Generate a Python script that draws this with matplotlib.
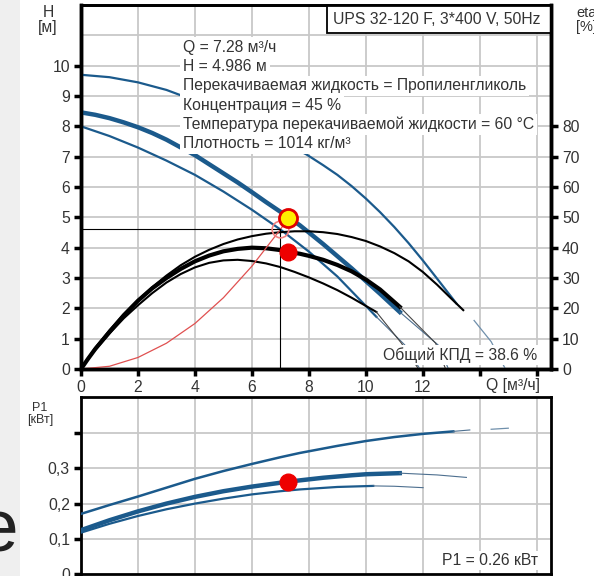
import matplotlib.pyplot as plt
from matplotlib.patches import Rectangle

plt.rcParams['font.family'] = ['Liberation Sans', 'DejaVu Sans']

BLUE = '#1b5a8c'
TXT = '#333333'
FS = 11.3

# --- Q-H curves, H [m] vs Q [m3/h] ---
q_hmax = [0, 1, 2, 3, 4, 5, 6, 7, 7.92, 8.5, 9, 9.5, 10, 10.5, 11, 11.5, 12, 12.5, 13.18]
h_hmax = [9.7, 9.62, 9.45, 9.2, 8.85, 8.45, 8.0, 7.52, 7.07, 6.72, 6.4, 6.03, 5.62, 5.17,
          4.68, 4.15, 3.58, 2.98, 2.16]
q_hmax_ext = [13.8, 14.4, 14.9]
h_hmax_ext = [1.6, 0.9, 0.0]

q_hop = [0, 0.5, 1, 1.5, 2, 2.5, 3, 3.47, 4, 4.5, 5, 5.5, 6, 6.5, 7.02, 7.28, 7.68, 8,
         8.5, 9, 9.5, 10, 10.5, 11.19]
h_hop = [8.46, 8.38, 8.27, 8.13, 7.97, 7.78, 7.56, 7.32, 7.05, 6.75, 6.45, 6.15, 5.83,
         5.5, 5.17, 5.0, 4.74, 4.5, 4.12, 3.72, 3.32, 2.9, 2.48, 1.88]
q_hop_ext = [11.19, 12.54, 12.9]
h_hop_ext = [1.88, 0.79, 0.0]

q_hmin = [0, 1, 2, 3, 4, 5, 6, 7, 8, 9, 10.37]
h_hmin = [8.0, 7.68, 7.3, 6.87, 6.4, 5.85, 5.25, 4.6, 3.87, 3.05, 1.72]
q_hmin_ext = [10.37, 11.37, 11.9]
h_hmin_ext = [1.72, 0.79, 0.0]

# --- efficiency curves, eta/10 on the H scale ---
q_emax = [0, 0.25, 0.5, 1, 1.5, 2, 2.5, 3, 3.5, 4, 4.5, 5, 5.5, 6, 6.5, 7, 7.5, 8, 8.5,
          9, 9.5, 10, 10.5, 11, 11.5, 12, 12.5, 13, 13.42]
e_emax = [0, 0.36, 0.7, 1.28, 1.8, 2.27, 2.7, 3.08, 3.42, 3.7, 3.93, 4.12, 4.27, 4.38,
          4.46, 4.51, 4.54, 4.54, 4.51, 4.45, 4.35, 4.22, 4.04, 3.82, 3.55, 3.2, 2.78,
          2.32, 1.94]

q_eop = [0, 0.25, 0.5, 1, 1.5, 2, 2.5, 3, 3.5, 4, 4.5, 5, 5.5, 6, 6.5, 7, 7.28, 7.68, 8,
         8.5, 9, 9.5, 10, 10.5, 11.19]
e_eop = [0, 0.34, 0.66, 1.22, 1.77, 2.25, 2.66, 3.0, 3.3, 3.55, 3.74, 3.88, 3.96, 4.0,
         3.98, 3.92, 3.86, 3.8, 3.73, 3.6, 3.43, 3.22, 2.95, 2.62, 2.05]
q_eop_ext = [11.19, 12.45, 12.8]
e_eop_ext = [2.05, 0.85, 0.0]

q_emin = [0, 0.25, 0.5, 1, 1.5, 2, 2.5, 3, 3.5, 4, 4.5, 5, 5.5, 6, 6.5, 7, 7.5, 8, 8.5,
          9, 9.5, 10, 10.37]
e_emin = [0, 0.33, 0.63, 1.17, 1.67, 2.1, 2.5, 2.85, 3.13, 3.35, 3.5, 3.58, 3.6, 3.56,
          3.48, 3.36, 3.2, 3.02, 2.82, 2.6, 2.35, 2.08, 1.88]
q_emin_ext = [10.37, 11.25, 11.85]
e_emin_ext = [1.88, 0.85, 0.0]

# system curve
q_sys = [0, 1, 2, 3, 4, 5, 6, 7, 7.28]
h_sys = [0, 0.09, 0.38, 0.85, 1.5, 2.35, 3.39, 4.6, 4.986]

duty_q, duty_h, duty_eta = 7.28, 4.986, 3.86
ref_q, ref_h = 7.0, 4.6

# --- P1 curves [kW] ---
q_pmax = [0, 1, 2, 3, 4, 5, 6, 7, 7.68, 9, 10.02, 11, 12.01, 13.07]
p_pmax = [0.171, 0.196, 0.22, 0.245, 0.27, 0.292, 0.312, 0.331, 0.343, 0.363, 0.377,
          0.388, 0.397, 0.404]
q_pmax_ext = [13.07, 13.65]
p_pmax_ext = [0.404, 0.408]
q_pmax_ext2 = [14.4, 15.0]
p_pmax_ext2 = [0.41, 0.413]

q_pop = [0, 1, 2, 3, 4, 5, 6, 7.28, 8.5, 9.5, 10.02, 11.19]
p_pop = [0.125, 0.153, 0.178, 0.2, 0.219, 0.235, 0.248, 0.262, 0.273, 0.28, 0.283, 0.286]
q_pop_ext = [11.19, 12.5, 13.53]
p_pop_ext = [0.286, 0.281, 0.274]

q_pmin = [0, 1, 2, 3, 4, 5, 6, 7, 7.68, 9, 10.26]
p_pmin = [0.118, 0.143, 0.165, 0.184, 0.2, 0.214, 0.226, 0.235, 0.24, 0.247, 0.25]
q_pmin_ext = [10.26, 11.0, 12.01]
p_pmin_ext = [0.25, 0.249, 0.245]
duty_p = 0.262

info_lines = [
    'Q = 7.28 м³/ч',
    'H = 4.986 м',
    'Перекачиваемая жидкость = Пропиленгликоль',
    'Концентрация = 45 %',
    'Температура перекачиваемой жидкости = 60 °C',
    'Плотность = 1014 кг/м³',
]
info_y = [10.59, 9.96, 9.33, 8.7, 8.07, 7.44]


def style_spines(ax, lw):
    for s in ax.spines.values():
        s.set_linewidth(lw)
        s.set_color('black')


fig = plt.figure(figsize=(5.94, 5.76), dpi=100)
fig.patches.append(Rectangle((0, 0), 20 / 594, 1, transform=fig.transFigure,
                             facecolor='#efefef', edgecolor='none', zorder=-5))
fig.text(19 / 594, 1 - 552 / 576, 'e', fontsize=54, ha='right', va='baseline', color='#222222')

# ---------------- top chart ----------------
ax = fig.add_axes([81 / 594, 1 - 369 / 576, 470 / 594, 364 / 576])
ax.set_xlim(0, 16.5)
ax.set_ylim(0, 12)
for gx in range(2, 17, 2):
    ax.axvline(gx, color='#c8c8c8', lw=1.3, zorder=0)
for gy in range(1, 12):
    ax.axhline(gy, color='#c8c8c8', lw=1.3, zorder=0)

ax.plot(q_hmax, h_hmax, color=BLUE, lw=1.6, zorder=3)
ax.plot(q_hmax[-1:] + [13.36], h_hmax[-1:] + [2.0], color='#6f8fab', lw=0.8, zorder=3)
ax.plot(q_hmax_ext, h_hmax_ext, color='#6f8fab', lw=0.9, zorder=3)
ax.plot(q_hop, h_hop, color=BLUE, lw=3.2, zorder=3)
ax.plot(q_hop_ext, h_hop_ext, color='#4d6f8f', lw=0.8, zorder=3)
ax.plot(q_hmin, h_hmin, color=BLUE, lw=1.6, zorder=3)
ax.plot(q_hmin_ext, h_hmin_ext, color='#4d6f8f', lw=0.8, zorder=3)

ax.plot(q_emax, e_emax, color='black', lw=1.5, zorder=3)
ax.plot(q_eop, e_eop, color='black', lw=3.0, zorder=3)
ax.plot(q_eop_ext, e_eop_ext, color='#444444', lw=0.8, zorder=3)
ax.plot(q_emin, e_emin, color='black', lw=1.5, zorder=3)
ax.plot(q_emin_ext, e_emin_ext, color='#444444', lw=0.8, zorder=3)

ax.plot(q_sys, h_sys, color='#e05050', lw=0.9, zorder=4)
ax.plot([0, ref_q], [ref_h, ref_h], color='black', lw=0.8, zorder=4)
ax.plot([ref_q, ref_q], [0, ref_h], color='black', lw=0.8, zorder=4)
ax.plot(ref_q, ref_h, 'o', ms=12, mfc='none', mec='#f08080', mew=1.2, zorder=5)
ax.plot(duty_q, duty_h, 'o', ms=13, mfc='#ffee00', mec='#e00000', mew=2, zorder=6)
ax.plot(duty_q, duty_eta, 'o', ms=12, mfc='#ee0000', mec='#ee0000', zorder=6)

for line, y in zip(info_lines, info_y):
    ax.text(3.58, y, line, fontsize=FS, color=TXT, ha='left', va='center', zorder=7,
            bbox=dict(facecolor='white', edgecolor='none', pad=2))

ax.add_patch(Rectangle((8.63, 11.09), 16.5 - 8.63, 0.91, facecolor='white',
                       edgecolor='black', lw=1.3, zorder=7, clip_on=False))
ax.text(12.49, 11.53, 'UPS 32-120 F, 3*400 V, 50Hz', fontsize=FS, color=TXT,
        ha='center', va='center', zorder=8)
ax.text(16.0, 0.46, 'Общий КПД = 38.6 %', fontsize=FS, color=TXT, ha='right', va='center',
        zorder=7, bbox=dict(facecolor='white', edgecolor='none', pad=1.5))
ax.text(15.16, -0.53, 'Q [м³/ч]', fontsize=FS, color=TXT, ha='center', va='center', clip_on=False)

ax.set_xticks(range(0, 17, 2))
ax.set_xticklabels(['0', '2', '4', '6', '8', '10', '12', '', ''])
ax.set_yticks(range(0, 11))
ax.tick_params(direction='out', length=5, width=2.5, color='black', labelsize=FS,
               labelcolor=TXT, pad=3)
style_spines(ax, 2.5)
ax.spines['top'].set_linewidth(2)

ax2 = ax.twinx()
ax2.set_ylim(0, 120)
ax2.set_yticks(range(0, 90, 10))
ax2.tick_params(direction='out', length=5, width=2.5, color='black', labelsize=FS,
                labelcolor=TXT, pad=3)
style_spines(ax2, 2.5)
ax2.spines['top'].set_linewidth(2)

fig.text(48 / 594, 1 - 20 / 576, 'H\n[м]', fontsize=FS, color=TXT, ha='center',
         va='center', linespacing=1.05)
fig.text(576 / 594, 1 - 20 / 576, 'eta\n[%]', fontsize=10.5, color=TXT, ha='left',
         va='center', linespacing=1.05)

# ---------------- bottom chart ----------------
bx = fig.add_axes([81 / 594, 1 - 574.4 / 576, 470 / 594, 177 / 576])
bx.set_xlim(0, 16.5)
bx.set_ylim(0, 0.5)
for gx in range(2, 17, 2):
    bx.axvline(gx, color='#c8c8c8', lw=1.3, zorder=0)
for gy in [0.1, 0.2, 0.3, 0.4]:
    bx.axhline(gy, color='#c8c8c8', lw=1.3, zorder=0)

bx.plot(q_pmax, p_pmax, color=BLUE, lw=1.8, zorder=3)
bx.plot(q_pmax_ext, p_pmax_ext, color='#4d6f8f', lw=0.8, zorder=3)
bx.plot(q_pmax_ext2, p_pmax_ext2, color='#6f8fab', lw=0.9, zorder=3)
bx.plot(q_pop, p_pop, color=BLUE, lw=3.2, zorder=3)
bx.plot(q_pop_ext, p_pop_ext, color='#4d6f8f', lw=0.8, zorder=3)
bx.plot(q_pmin, p_pmin, color=BLUE, lw=1.6, zorder=3)
bx.plot(q_pmin_ext, p_pmin_ext, color='#4d6f8f', lw=0.8, zorder=3)
bx.plot(duty_q, duty_p, 'o', ms=12, mfc='#ee0000', mec='#ee0000', zorder=6)

bx.text(16.05, 0.04, 'P1 = 0.26 кВт', fontsize=FS, color=TXT, ha='right', va='center',
        zorder=7, bbox=dict(facecolor='white', edgecolor='none', pad=1.5))

bx.set_xticks([])
bx.set_yticks([0, 0.1, 0.2, 0.3, 0.4])
bx.set_yticklabels(['0', '0,1', '0,2', '0,3', ''])
bx.tick_params(direction='out', length=5, width=2.5, color='black', labelsize=FS,
               labelcolor=TXT, pad=3)
style_spines(bx, 2)

fig.text(40 / 594, 1 - 414 / 576, 'P1\n[кВт]', fontsize=9, color=TXT, ha='center',
         va='center', linespacing=0.95)

fig.savefig('out.png', dpi=100)
